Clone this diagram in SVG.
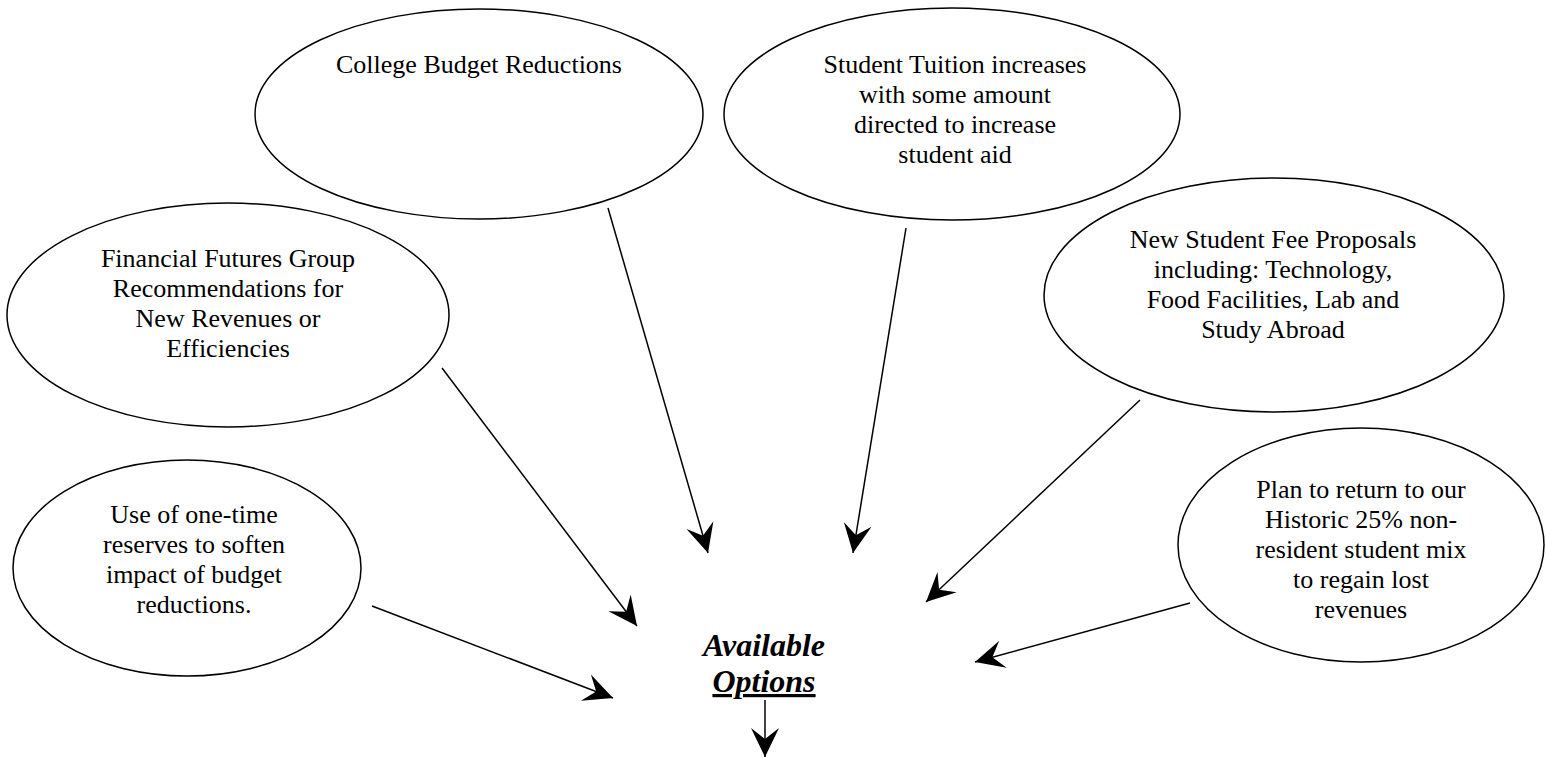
<svg xmlns="http://www.w3.org/2000/svg" width="1546" height="757" viewBox="0 0 1546 757">
  <style>
    .node ellipse { fill: #ffffff; stroke: #000000; stroke-width: 1.5; }
    .node text { font-family: "Liberation Serif", "Times New Roman", serif; font-size: 26px; fill: #000000; text-anchor: middle; }
    .conn line { stroke: #000000; stroke-width: 1.5; }
    .title { font-family: "Liberation Serif", "Times New Roman", serif; font-size: 32px; font-weight: bold; font-style: italic; fill: #000000; text-anchor: middle; }
  </style>
  <defs>
    <!-- stealth-style arrowhead, tip on the line end -->
    <marker id="stealth" viewBox="-32 -16 34 32" refX="0" refY="0" markerWidth="34" markerHeight="32" markerUnits="userSpaceOnUse" orient="auto">
      <path d="M0,0 L-29,-14 L-18,0 L-29,14 Z" fill="#000000"/>
    </marker>
  </defs>
  <rect width="1546" height="757" fill="#ffffff"/>

  <!-- connectors: every option points at the centre label -->
  <g id="connectors" class="conn">
    <line x1="608" y1="208" x2="708" y2="553" marker-end="url(#stealth)"/>
    <line x1="906" y1="228" x2="853" y2="553" marker-end="url(#stealth)"/>
    <line x1="442" y1="368" x2="637" y2="626" marker-end="url(#stealth)"/>
    <line x1="1140" y1="400" x2="926" y2="602" marker-end="url(#stealth)"/>
    <line x1="372" y1="606" x2="613" y2="698" marker-end="url(#stealth)"/>
    <line x1="1190" y1="603" x2="975" y2="662" marker-end="url(#stealth)"/>
    <line x1="765" y1="700" x2="765" y2="757" marker-end="url(#stealth)"/>
  </g>

  <g id="college-budget" class="node">
    <ellipse cx="479" cy="114" rx="224" ry="105"/>
    <text x="479" y="73">College Budget Reductions</text>
  </g>

  <g id="tuition" class="node">
    <ellipse cx="952" cy="114" rx="228" ry="106"/>
    <text x="955" y="73">Student Tuition increases</text>
    <text x="955" y="103">with some amount</text>
    <text x="955" y="133">directed to increase</text>
    <text x="955" y="163">student aid</text>
  </g>

  <g id="financial-futures" class="node">
    <ellipse cx="228" cy="315" rx="221" ry="112"/>
    <text x="228" y="267">Financial Futures Group</text>
    <text x="228" y="297">Recommendations for</text>
    <text x="228" y="327">New Revenues or</text>
    <text x="228" y="357">Efficiencies</text>
  </g>

  <g id="student-fees" class="node">
    <ellipse cx="1274" cy="295" rx="230" ry="117"/>
    <text x="1273" y="248">New Student Fee Proposals</text>
    <text x="1273" y="278">including: Technology,</text>
    <text x="1273" y="308">Food Facilities, Lab and</text>
    <text x="1273" y="338">Study Abroad</text>
  </g>

  <g id="one-time-reserves" class="node">
    <ellipse cx="187" cy="568" rx="174" ry="108"/>
    <text x="194" y="523">Use of one-time</text>
    <text x="194" y="553">reserves to soften</text>
    <text x="194" y="583">impact of budget</text>
    <text x="194" y="613">reductions.</text>
  </g>

  <g id="non-resident-mix" class="node">
    <ellipse cx="1361" cy="545" rx="183" ry="117"/>
    <text x="1361" y="498">Plan to return to our</text>
    <text x="1361" y="528">Historic 25% non-</text>
    <text x="1361" y="558">resident student mix</text>
    <text x="1361" y="588">to regain lost</text>
    <text x="1361" y="618">revenues</text>
  </g>

  <g id="available-options">
    <text class="title" x="764" y="656">Available</text>
    <text class="title" x="764" y="692" text-decoration="underline">Options</text>
  </g>
</svg>
